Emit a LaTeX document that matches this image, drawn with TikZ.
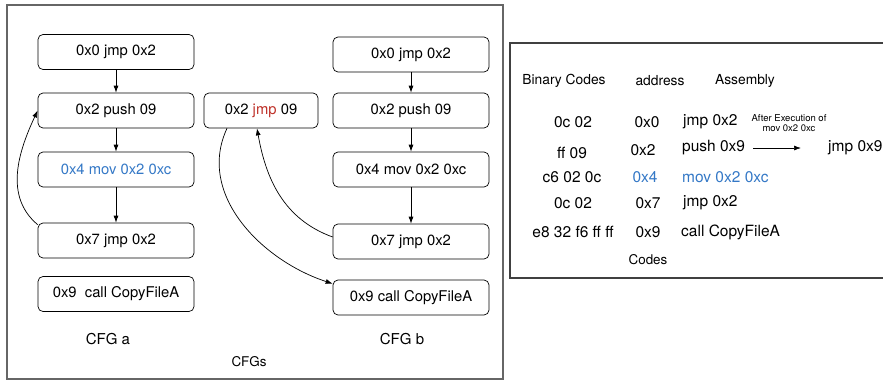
\documentclass[tikz,border=0pt]{standalone}
\usepackage{fontspec}
\setmainfont{TeX Gyre Heros}
\usetikzlibrary{arrows.meta,positioning}
\usepackage{xcolor}
\definecolor{movblue}{RGB}{52,120,198}
\definecolor{jmpred}{RGB}{190,48,40}

\begin{document}
\begin{tikzpicture}[x=1pt,y=1pt]
    \tikzstyle{block} = [rectangle, draw, rounded corners=5pt, line width=0.7pt,
               minimum width=156pt, minimum height=35pt, inner sep=2pt,
               font=\fontsize{14.8}{17}\selectfont]
    \tikzstyle{line} = [draw, -{Latex[length=7pt,width=5pt]}, line width=0.7pt]
    \tikzstyle{cell} = [inner sep=0pt, font=\fontsize{15.5}{18}\selectfont]
    \tikzstyle{head} = [inner sep=0pt, font=\fontsize{13.8}{16}\selectfont]
    \tikzstyle{caption} = [inner sep=0pt, font=\fontsize{13.4}{16}\selectfont]

    \useasboundingbox (0,0) rectangle (883,-380);

    % Frames
    \draw [black!60, line width=1.2pt] (7,-5) rectangle (503,-379);
    \draw [black!75, line width=1.2pt] (883,-43) -- (510,-43) -- (510,-278) -- (883,-278);

    % CFG a
    \node [block] (a0) at (116,-52) {0x0 jmp 0x2};
    \node [block] (a2) at (116,-110.5) {0x2 push 09};
    \node [block, text=movblue] (a4) at (116,-169.5) {0x4 mov 0x2 0xc};
    \node [block] (a7) at (116,-240.5) {0x7 jmp 0x2};
    \node [block] (a9) at (116,-294) {0x9\ \ call CopyFileA};
    \node [caption, font=\fontsize{15}{18}\selectfont] (cfga) at (108,-339) {CFG a};

    % patched block
    \node [block, minimum width=114pt] (mid) at (261,-110.5) {0x2 \textcolor{jmpred}{jmp} 09};

    % CFG b
    \node [block] (b0) at (411,-54.5) {0x0 jmp 0x2};
    \node [block] (b2) at (411,-110.5) {0x2 push 09};
    \node [block] (b4) at (411,-169.5) {0x4 mov 0x2 0xc};
    \node [block] (b7) at (411,-241.5) {0x7 jmp 0x2};
    \node [block] (b9) at (411,-297.5) {0x9 call CopyFileA};
    \node [caption, font=\fontsize{15}{18}\selectfont] (cfgb) at (402,-339) {CFG b};

    \node [caption] (cfgs) at (249,-362) {CFGs};

    % edges
    \path [line] (a0) -- (a2);
    \path [line] (a2) -- (a4);
    \path [line] (a4) -- (a7);
    \path [line] ([yshift=-2pt]a7.north west) to[out=140,in=245] (a2.west);

    \path [line] (b0) -- (b2);
    \path [line] (b2) -- (b4);
    \path [line] (b4) -- (b7);
    \path [line] ([yshift=4.5pt]b7.west) to[out=160,in=280] ([xshift=-4pt]mid.south);
    \path [line] ([xshift=-34pt]mid.south) to[out=245,in=162] ([yshift=-4pt]b9.north west);

    % Codes table
    \node [head] (hbin) at (564,-81) {Binary Codes};
    \node [head] (haddr) at (660,-81) {address};
    \node [head] (hasm) at (745,-81) {Assembly};

    \node [cell] (bin1) at (573,-122) {0c 02};
    \node [cell] (bin2) at (572,-153) {ff 09};
    \node [cell] (bin3) at (572,-177) {c6 02 0c};
    \node [cell] (bin4) at (573,-203) {0c 02};
    \node [cell] (bin5) at (573,-232) {e8 32 f6 ff ff};

    \node [cell] (addr1) at (647,-122) {0x0};
    \node [cell] (addr2) at (643,-150) {0x2};
    \node [cell, text=movblue] (addr3) at (645,-177) {0x4};
    \node [cell] (addr4) at (648,-203) {0x7};
    \node [cell] (addr5) at (648,-232) {0x9};

    \node [cell, anchor=west] (asm1) at (683,-122) {jmp 0x2};
    \node [cell, anchor=west] (asm2) at (682,-148) {push 0x9};
    \node [cell, anchor=west, text=movblue] (asm3) at (682,-177) {mov 0x2 0xc};
    \node [cell, anchor=west] (asm4) at (683,-203) {jmp 0x2};
    \node [cell, anchor=west] (asm5) at (681,-232) {call CopyFileA};

    \node [cell, anchor=west] (jmp9) at (828,-148) {jmp 0x9};
    \node [inner sep=0pt, font=\fontsize{9.5}{11}\selectfont] (note) at (789,-118) {After Execution of};
    \node [inner sep=0pt, font=\fontsize{9.5}{11}\selectfont, below=3pt of note] (notemov) {mov 0x2 0xc};
    \path [line] ([xshift=8pt]asm2.east) -- ([xshift=-27pt]jmp9.west);

    \node [caption] (codes) at (648,-260) {Codes};
\end{tikzpicture}
\end{document}
